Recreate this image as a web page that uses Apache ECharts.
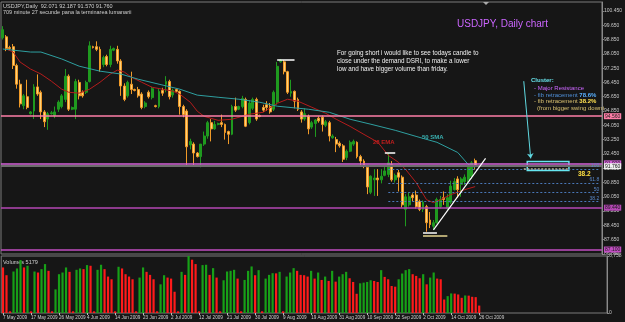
<!DOCTYPE html>
<html>
<head>
<meta charset="utf-8">
<script src="https://cdn.jsdelivr.net/npm/echarts@6/dist/echarts.min.js"></script>
<style>
html, body { margin: 0; padding: 0; background: #161616; }
#chart { width: 625px; height: 322px; }
</style>
</head>
<body>
<div id="chart"></div>
<script>
'use strict'

// date labels, one every 8 bars
var tickLabels = ['7 May 2009', '17 May 2009', '26 May 2009', '4 Jun 2009', '14 Jun 2009', '23 Jun 2009',
    '2 Jul 2009', '12 Jul 2009', '21 Jul 2009', '30 Jul 2009', '9 Aug 2009', '19 Aug 2009', '31 Aug 2009',
    '10 Sep 2009', '22 Sep 2009', '2 Oct 2009', '14 Oct 2009', '26 Oct 2009'];

// daily candles: open, close, low, high
var candles = [
    [98.95, 99.40, 98.85, 99.60], [99.00, 98.35, 98.20, 99.10], [98.40, 98.35, 98.25, 98.50], [98.45, 97.40, 97.20, 98.60],
    [97.40, 96.35, 96.10, 97.50], [96.35, 95.25, 95.05, 96.60], [95.15, 95.70, 94.95, 95.80], [95.65, 95.05, 94.95, 96.60],
    [94.70, 94.80, 94.65, 94.85], [94.85, 96.20, 94.40, 96.35], [96.20, 95.80, 95.70, 96.90], [95.90, 94.80, 94.40, 96.00],
    [94.80, 94.25, 93.95, 94.90], [94.40, 94.70, 93.80, 94.80], [94.70, 94.75, 94.65, 94.85], [94.60, 94.80, 94.45, 95.10],
    [94.95, 95.35, 94.80, 95.45], [95.10, 95.70, 95.00, 95.80], [95.50, 96.80, 95.35, 97.20], [96.80, 94.95, 94.85, 96.90],
    [94.95, 95.05, 94.90, 95.10], [94.95, 96.50, 94.40, 96.65], [96.45, 95.70, 95.50, 96.60], [95.90, 95.70, 95.60, 96.00],
    [95.90, 96.45, 95.80, 96.55], [96.50, 98.50, 96.45, 98.75], [98.45, 98.40, 98.35, 98.50], [98.45, 98.30, 98.20, 98.75],
    [98.30, 97.20, 97.05, 98.45], [97.45, 97.85, 97.30, 97.95], [97.90, 97.45, 97.35, 98.00], [97.45, 98.30, 97.30, 98.50],
    [98.25, 98.35, 98.20, 98.40], [98.30, 97.65, 97.50, 98.50], [97.65, 96.25, 95.70, 97.75], [96.25, 95.50, 95.40, 96.40],
    [95.70, 96.45, 95.60, 96.55], [96.35, 96.05, 95.80, 97.05], [96.05, 96.00, 95.95, 96.10], [96.05, 95.70, 95.60, 96.20],
    [95.80, 95.05, 94.95, 95.90], [95.10, 95.30, 95.00, 95.40], [95.90, 95.65, 95.55, 96.00], [95.60, 96.10, 95.50, 96.20],
    [95.15, 95.10, 95.05, 95.20], [95.10, 95.95, 95.00, 96.10], [96.00, 95.85, 95.70, 96.15], [96.35, 96.50, 95.90, 96.80],
    [96.50, 95.65, 95.50, 96.60], [95.75, 96.00, 95.60, 96.10], [96.05, 95.95, 95.90, 96.10], [95.95, 95.10, 94.65, 96.00],
    [95.10, 94.65, 94.50, 95.20], [94.85, 92.85, 91.75, 94.95], [92.95, 93.15, 92.70, 93.30], [93.00, 92.50, 91.75, 93.10],
    [92.50, 92.30, 92.25, 92.55], [92.30, 93.00, 91.70, 93.00], [93.00, 93.45, 92.90, 93.70], [93.45, 94.20, 93.30, 94.30],
    [94.20, 93.85, 93.15, 94.40], [93.85, 94.10, 93.80, 94.30], [94.10, 94.15, 94.05, 94.20], [94.20, 94.10, 93.95, 94.65],
    [94.10, 93.65, 93.25, 94.15], [93.70, 93.55, 93.00, 93.75], [93.55, 95.10, 93.50, 95.20], [95.10, 94.90, 94.80, 95.60],
    [94.95, 95.10, 94.90, 95.15], [95.10, 95.55, 95.00, 95.70], [95.50, 94.00, 93.95, 95.60], [94.20, 95.30, 94.10, 95.45],
    [95.00, 95.50, 94.90, 95.60], [95.50, 94.40, 94.30, 95.60], [94.60, 94.55, 94.50, 94.65], [95.05, 94.90, 94.80, 95.20],
    [95.20, 95.05, 94.85, 95.40], [95.10, 94.80, 94.70, 95.30], [94.95, 95.90, 94.85, 96.00], [95.35, 97.35, 95.20, 97.60],
    [97.60, 97.70, 97.55, 97.75], [97.60, 97.05, 96.90, 97.70], [97.05, 95.90, 95.80, 97.10], [95.85, 95.95, 95.65, 96.60],
    [95.95, 95.40, 95.00, 96.00], [95.50, 94.95, 94.85, 95.60], [94.80, 94.40, 94.20, 94.90], [94.40, 94.70, 94.30, 95.00],
    [94.55, 93.85, 93.55, 94.65], [93.95, 94.20, 93.85, 94.30], [94.15, 94.35, 93.40, 94.40], [94.45, 94.30, 94.20, 94.55],
    [94.50, 94.10, 93.70, 94.60], [94.05, 94.25, 93.95, 94.35], [94.20, 93.45, 93.15, 94.30], [93.35, 93.45, 93.30, 93.55],
    [93.25, 93.00, 92.55, 93.40], [93.05, 92.90, 92.80, 93.15], [92.90, 92.15, 92.00, 93.00], [92.25, 92.60, 92.10, 92.70],
    [92.60, 93.10, 92.55, 93.20], [93.00, 93.15, 92.90, 93.25], [93.10, 92.30, 92.20, 93.15], [92.30, 92.05, 91.80, 92.40],
    [92.05, 91.75, 91.65, 92.15], [91.70, 90.60, 90.20, 91.75], [90.30, 91.20, 90.20, 91.25], [91.00, 91.10, 90.10, 91.60],
    [91.10, 91.00, 90.10, 91.60], [91.00, 91.20, 90.80, 91.60], [91.25, 91.50, 91.20, 91.75], [91.30, 91.95, 91.15, 92.50],
    [91.85, 91.00, 90.90, 92.05], [91.00, 91.25, 90.85, 91.35], [91.40, 91.15, 90.35, 91.55], [91.15, 89.60, 89.45, 91.25],
    [89.35, 90.05, 88.40, 90.20], [89.60, 90.05, 89.50, 90.30], [90.15, 90.00, 89.80, 90.25], [90.15, 89.50, 89.40, 90.40],
    [89.80, 89.35, 89.25, 89.90], [89.35, 89.75, 89.20, 89.85], [89.50, 88.60, 88.10, 89.60], [88.75, 88.50, 88.30, 89.20],
    [88.40, 88.60, 88.20, 88.75], [88.60, 89.90, 88.55, 90.00], [89.50, 89.90, 89.40, 90.10], [90.00, 89.90, 89.60, 90.35],
    [89.40, 90.00, 89.30, 90.20], [89.75, 90.65, 89.65, 90.95], [90.45, 90.90, 90.40, 91.10], [91.05, 90.45, 90.00, 91.20],
    [90.75, 91.05, 90.05, 91.15], [90.90, 91.15, 90.70, 91.30], [91.00, 91.70, 90.85, 91.80], [91.20, 91.95, 91.05, 92.05],
    [92.071, 91.760, 91.570, 92.187]
];

var volumes = [
    5400, 4480, 200, 4920, 5280, 6280, 5400, 5600, 200, 4920, 4800, 5200, 5800, 5000, 200, 2800,
    4600, 4800, 5400, 4880, 200, 5120, 5280, 5200, 5680, 5600, 200, 5120, 5720, 5200, 4320, 4000,
    200, 5480, 5280, 4600, 4320, 4000, 200, 4200, 5400, 4880, 4520, 4000, 200, 3400, 4480, 4200,
    4080, 2520, 200, 4880, 4520, 6758, 6320, 5800, 200, 5680, 5720, 4520, 5320, 4200, 200, 3880,
    4920, 5000, 5120, 4080, 200, 3920, 5000, 5520, 4480, 5080, 200, 4080, 4520, 4720, 4700, 4880,
    200, 4320, 4800, 5320, 5000, 4520, 4480, 4320, 5000, 4080, 4800, 3920, 4320, 3800, 5000, 3720,
    4320, 4600, 4880, 4120, 3680, 2280, 3520, 3600, 3680, 3880, 3800, 3680, 5080, 4280, 4000, 3200,
    3120, 4000, 4680, 5080, 5200, 4600, 4400, 4120, 4600, 3400, 4200, 4800, 4080, 4000, 1600, 2000,
    2320, 2300, 2200, 1800, 2080, 2060, 1920, 1880, 880
];

// moving averages: [bar, price]
var ema28 = [[1, 98.32], [3, 98.15], [5, 97.59], [8, 97.2], [11, 96.92], [14, 96.52], [17, 96.07], [19, 95.9],
    [22, 95.85], [25, 96.07], [28, 96.46], [31, 96.92], [33, 97.14], [35, 97.03], [37, 96.75], [40, 96.46],
    [43, 96.18], [46, 96.07], [49, 95.96], [51, 95.79], [54, 95.34], [56, 94.84], [58, 94.55], [62, 94.33],
    [66, 94.39], [71, 94.67], [75, 94.78], [79, 95.28], [82, 95.51], [85, 95.4], [89, 95.06], [93, 94.72],
    [96, 94.39], [100, 93.99], [104, 93.54], [108, 93.1], [111, 92.37], [114, 91.97], [116, 91.58], [119, 90.85],
    [122, 89.89], [124, 89.72], [126, 89.89], [129, 90.17], [133, 90.45], [136, 90.62]];
var sma50 = [[0, 98.32], [8, 98.15], [11, 98.15], [17, 97.76], [22, 97.36], [28, 97.08], [34, 96.92], [39, 96.63],
    [45, 96.35], [51, 96.07], [56, 95.74], [62, 95.62], [68, 95.51], [74, 95.34], [79, 95.12], [88, 94.95],
    [94, 94.78], [100, 94.39], [106, 94.11], [113, 93.77], [119, 93.43], [125, 93.1], [131, 92.53], [134, 91.86],
    [136, 91.69]];

var resistLevels = [94.56, 91.922, 89.44, 87.10];
var fibLevels = [91.58, 90.79, 90.28, 89.78];
var fibNames = ['100', '61.8', '50', '38.2'];

var nCat = 173;
var cats = [];
for (var i = 0; i < nCat; i++) cats.push(String(i));

var lastClose = candles[candles.length - 1][1];
var font = 'Liberation Sans';

var volData = volumes.map(function (v, k) {
    var up = k > 0 && v > volumes[k - 1];
    return { value: v, itemStyle: { color: up ? '#17a017' : '#ff1a1a' } };
});

function boxLabel(bg, fg) {
    return {
        show: true, position: 'end', distance: 2, formatter: function (p) { return p.value.toFixed(3); },
        backgroundColor: bg, color: fg, fontSize: 5, fontFamily: font, padding: [1, 1, 0, 1]
    };
}

var lines = [];
var resistColors = ['#ff7fa8', '#d462d8', '#b447b4', '#c24ec2'];
resistLevels.forEach(function (v, k) {
    lines.push({ yAxis: v, lineStyle: { color: resistColors[k], width: 1.5, type: 'solid' }, label: boxLabel(resistColors[k], '#1a1a1a') });
});
lines.push({ yAxis: lastClose, lineStyle: { color: '#6e6e6e', width: 2, type: 'solid' }, label: boxLabel('#f0f0f0', '#111') });
fibLevels.forEach(function (v, k) {
    lines.push([
        { coord: [111, v], lineStyle: { color: '#4a78b8', width: 1, type: [2, 2] },
          label: { show: true, position: 'insideEndTop', distance: 1, formatter: fibNames[k], color: '#5a88c8', fontSize: 5, fontFamily: font } },
        { coord: [172, v] }
    ]);
});
function seg(a, b, color, w) {
    return [{ coord: a, lineStyle: { color: color, width: w, type: 'solid' } }, { coord: b }];
}
lines.push(seg([150, 91.62], [163, 91.62], '#b8b49a', 1.5));
lines[lines.length - 1][0].lineStyle.type = [2, 1.5];
lines.push(seg([79, 97.72], [84, 97.72], '#ffffff', 1.5));
lines.push(seg([110, 92.53], [113, 92.53], '#ffffff', 1.5));
lines.push(seg([121, 88.04], [125, 88.04], '#ffffff', 1.5));
lines.push(seg([121, 87.87], [128, 87.87], '#e6d690', 1.5));
lines.push(seg([124, 88.2], [139, 92.2], '#ffffff', 1.2));
lines.push([
    { coord: [149.9, 96.52], symbol: 'none', lineStyle: { color: '#5fd8e0', width: 1, type: 'solid', curveness: -0.35 } },
    { coord: [152, 92.2], symbol: 'arrow', symbolSize: 5 }
]);

var chart = echarts.init(document.getElementById('chart'));

var dateTick = function (idx) { return idx % 8 === 0 && idx <= 136; };

var option = {
    animation: false,
    backgroundColor: '#161616',
    grid: [
        { left: 1, right: 18, top: 2, height: 252, show: true, borderColor: '#7a7a7a', borderWidth: 1, backgroundColor: 'transparent' },
        { left: 1, right: 18, top: 256, height: 57, show: true, borderColor: '#7a7a7a', borderWidth: 1, backgroundColor: 'transparent' }
    ],
    xAxis: [
        { type: 'category', gridIndex: 0, data: cats, axisLine: { show: false }, axisTick: { show: false }, axisLabel: { show: false } },
        {
            type: 'category', gridIndex: 1, data: cats, axisLine: { show: false },
            axisTick: { show: true, alignWithLabel: true, length: 2, lineStyle: { color: '#bbbbbb' }, interval: dateTick },
            axisLabel: {
                interval: dateTick,
                formatter: function (v, idx) { return tickLabels[idx / 8] || ''; },
                showMinLabel: true, hideOverlap: false,
                align: 'left', color: '#cfcfcf', fontSize: 4.6, fontFamily: font, margin: 2
            }
        }
    ],
    yAxis: [
        {
            type: 'value', gridIndex: 0, position: 'right', min: 86.85, max: 100.95, interval: 0.8,
            splitLine: { show: false },
            axisLine: { show: true, lineStyle: { color: '#8a8a8a' } },
            axisTick: { show: true, length: 2, lineStyle: { color: '#8a8a8a' } },
            axisLabel: { color: '#c8c8c8', fontSize: 5, fontFamily: font, margin: 2, showMaxLabel: false,
                formatter: function (v) { return v.toFixed(3); } }
        },
        {
            type: 'value', gridIndex: 1, position: 'right', min: 0, max: 6758, interval: 6758,
            splitLine: { show: false },
            axisLine: { show: true, lineStyle: { color: '#8a8a8a' } },
            axisTick: { show: true, length: 2, lineStyle: { color: '#8a8a8a' } },
            axisLabel: { color: '#c8c8c8', fontSize: 5, fontFamily: font, margin: 2 }
        }
    ],
    series: [
        {
            type: 'candlestick', xAxisIndex: 0, yAxisIndex: 0, data: candles, barWidth: 2.4,
            itemStyle: { color: '#1f9a1f', color0: '#ffd27a', borderColor: '#1f9a1f', borderColor0: '#f09a28', borderWidth: 1 },
            markLine: { silent: true, symbol: ['none', 'none'], label: { show: false }, data: lines },
            markArea: {
                silent: true,
                itemStyle: { color: 'rgba(0,0,0,0)', borderColor: '#66e6f0', borderWidth: 1.5 },
                data: [[{ coord: [151, 92.03] }, { coord: [163, 91.52] }]]
            }
        },
        { type: 'line', xAxisIndex: 0, yAxisIndex: 0, data: ema28, symbol: 'none', lineStyle: { color: '#b41c1c', width: 1 } },
        { type: 'line', xAxisIndex: 0, yAxisIndex: 0, data: sma50, symbol: 'none', lineStyle: { color: '#2e9fa0', width: 1 } },
        { type: 'bar', xAxisIndex: 1, yAxisIndex: 1, data: volData, barWidth: 2.2 }
    ],
    graphic: [
        { type: 'text', x: 3, y: 3, style: { text: 'USDJPY,Daily  92.071 92.187 91.570 91.760', fill: '#d0d0d0', fontSize: 5.5, fontFamily: font } },
        { type: 'text', x: 3, y: 9, style: { text: '709 minute 27 secunde pana la terminarea lumanarii', fill: '#d0d0d0', fontSize: 5.5, fontFamily: font } },
        { type: 'text', x: 3, y: 259, style: { text: 'Volumes 5179', fill: '#d0d0d0', fontSize: 5.5, fontFamily: font } },
        { type: 'text', x: 457, y: 19, style: { text: 'USDJPY, Daily chart', fill: '#cc66ff', fontSize: 10, fontFamily: font } },
        { type: 'text', x: 337, y: 50, style: { text: 'For going short i would like to see todays candle to', fill: '#f0f0f0', fontSize: 6.3, fontFamily: font } },
        { type: 'text', x: 337, y: 58, style: { text: 'close under the demand DSRI, to make a lower', fill: '#f0f0f0', fontSize: 6.3, fontFamily: font } },
        { type: 'text', x: 337, y: 66, style: { text: 'low and have bigger volume than friday.', fill: '#f0f0f0', fontSize: 6.3, fontFamily: font } },
        { type: 'text', x: 531, y: 77, style: { text: 'Cluster:', fill: '#66e0e8', fontSize: 6, fontWeight: 'bold', fontFamily: font } },
        { type: 'text', x: 534, y: 85, style: { text: '- Major Resistance', fill: '#cc66ff', fontSize: 6, fontFamily: font } },
        { type: 'text', x: 534, y: 92, style: { text: '{a|- fib retracement }{b|78.6%}', rich: {
            a: { fill: '#4f8fd8', fontSize: 6, fontFamily: font }, b: { fill: '#58b0ff', fontSize: 6, fontWeight: 'bold', fontFamily: font } } } },
        { type: 'text', x: 534, y: 98.5, style: { text: '{a|- fib retracement }{b|38.2%}', rich: {
            a: { fill: '#d8c070', fontSize: 6, fontFamily: font }, b: { fill: '#ffe050', fontSize: 6, fontWeight: 'bold', fontFamily: font } } } },
        { type: 'text', x: 537, y: 105, style: { text: '(from bigger swing down)', fill: '#d8c070', fontSize: 6, fontFamily: font } },
        { type: 'text', x: 373, y: 139, style: { text: '28 EMA', fill: '#c41e1e', fontSize: 6, fontWeight: 'bold', fontFamily: font } },
        { type: 'text', x: 422, y: 134, style: { text: '50 SMA', fill: '#3ab0b0', fontSize: 6, fontWeight: 'bold', fontFamily: font } },
        { type: 'text', x: 578, y: 171, style: { text: '38.2', fill: '#ffe040', fontSize: 6.5, fontWeight: 'bold', fontFamily: font } },
        { type: 'polygon', shape: { points: [[483, 2], [489, 2], [486, 5]] }, style: { fill: '#aaaaaa' } }
    ]
};

chart.setOption(option);
</script>
</body>
</html>
